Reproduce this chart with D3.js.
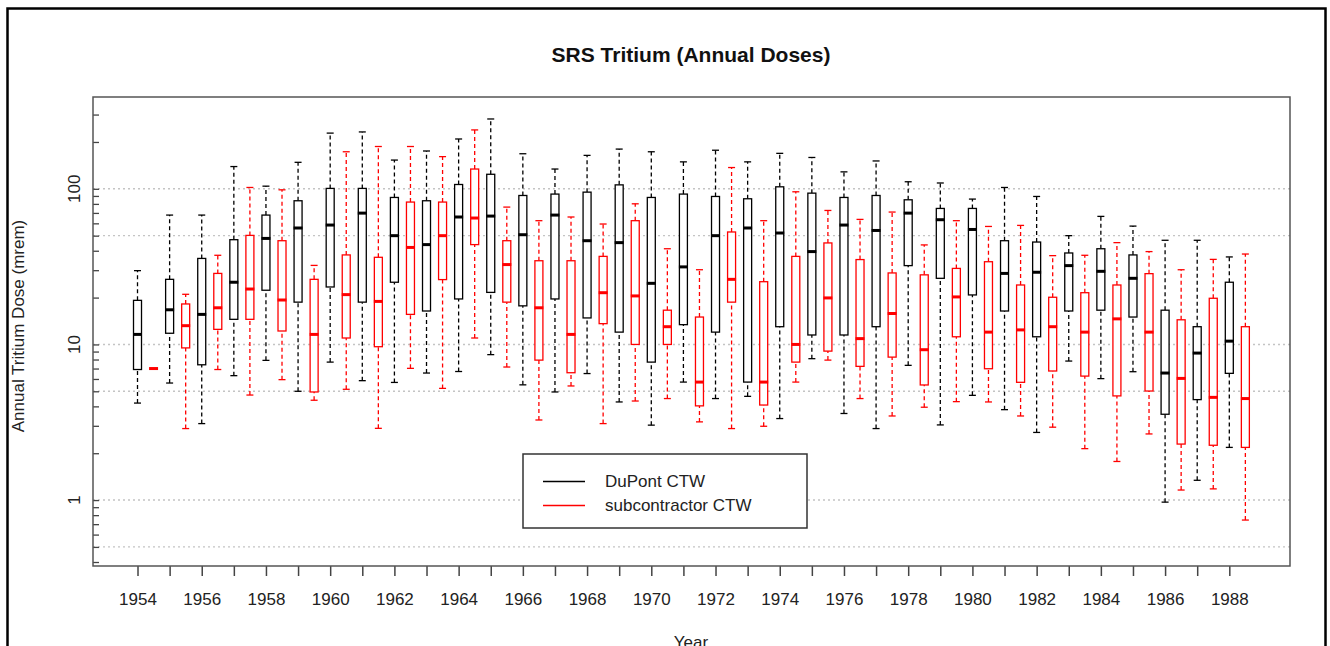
<!DOCTYPE html>
<html>
<head>
<meta charset="utf-8">
<script src="https://cdn.jsdelivr.net/npm/d3@7"></script>
<style>
  body { margin: 0; background: #fff; }
  svg text { font-family: "Liberation Sans", Arial, sans-serif; fill: #222; }
</style>
</head>
<body>
<div id="chart"></div>
<script>
// years on the x axis
var years = d3.range(1954, 1989);
var yTickLabels = [1, 10, 100];
var gridValues = [0.5, 1, 5, 10, 50, 100];

// [lower whisker, Q1, median, Q3, upper whisker] per year
var dupont = [
  [4.2, 6.9, 11.6, 19.2, 29.8], [5.65, 11.8, 16.7, 26.2, 67.8], [3.1, 7.4, 15.6, 35.7, 67.8],
  [6.3, 14.5, 25.1, 47.1, 139], [7.9, 22.3, 48.0, 67.8, 104], [5.0, 18.7, 56, 83.8, 148],
  [7.7, 23.4, 58.5, 100.6, 228], [5.85, 18.7, 69.8, 100.6, 232], [5.7, 25.1, 50, 88, 153],
  [6.55, 16.4, 43.8, 83.8, 175], [6.7, 19.6, 65.9, 106.6, 209], [8.6, 21.6, 66.8, 124, 281],
  [5.5, 17.7, 50.7, 90.6, 168], [4.95, 19.6, 67.8, 92.5, 134], [6.5, 14.8, 46.4, 95.2, 164],
  [4.27, 12.0, 45.1, 106, 180], [3.03, 7.7, 24.7, 88, 173], [5.73, 13.4, 31.5, 92.5, 149],
  [4.49, 12.0, 50, 89.3, 177], [4.64, 5.73, 56, 86.3, 149], [3.34, 13.0, 52, 103, 169],
  [8.1, 11.5, 39.5, 93.8, 159], [3.6, 11.5, 58.5, 88, 128.5], [2.88, 13.0, 54, 90.6, 151],
  [7.34, 32.1, 69.8, 85, 111], [3.04, 26.6, 63.3, 74.8, 109], [4.71, 20.8, 54.8, 74.8, 85.9],
  [3.81, 16.4, 28.6, 46.4, 102], [2.72, 11.2, 29.1, 45.5, 89.3], [7.82, 16.4, 32.1, 38.7, 50],
  [6.03, 16.6, 29.5, 41.2, 66.5], [6.68, 15.0, 26.6, 37.6, 57.6], [0.97, 3.56, 6.55, 16.6, 46.7],
  [1.34, 4.42, 8.8, 13.0, 46.7], [2.18, 6.52, 10.5, 25.1, 36.5]
];

var subcontractor = [
  [7, 7, 7, 7, 7], [2.88, 9.5, 13.2, 18.2, 21.0], [6.9, 12.5, 17.2, 28.6, 37.4],
  [4.73, 14.5, 22.7, 50.2, 102], [5.94, 12.2, 19.3, 46.4, 98.5], [4.38, 4.95, 11.6, 26.2, 32.2],
  [5.15, 11.0, 20.9, 37.6, 173], [2.89, 9.67, 18.9, 36.3, 187], [7.02, 15.6, 42.0, 82.2, 187],
  [5.22, 26.1, 50, 82.2, 161], [11.0, 43.8, 64.9, 134, 239], [7.16, 18.7, 32.6, 46.4, 76.3],
  [3.27, 7.93, 17.2, 34.5, 62.4], [5.41, 6.58, 11.6, 34.5, 65.9], [3.10, 13.6, 21.5, 36.8, 59.4],
  [4.33, 10.0, 20.5, 62.4, 80.1], [4.49, 10.0, 13.0, 16.6, 41.2], [3.18, 4.03, 5.73, 15.0, 30.2],
  [2.88, 18.7, 26.2, 52.8, 137], [2.98, 4.08, 5.73, 25.3, 62.4], [5.73, 7.70, 10.0, 36.8, 95.7],
  [7.93, 9.06, 19.9, 44.9, 72.6], [4.49, 7.23, 10.9, 35.1, 63.6], [3.47, 8.29, 15.8, 28.8, 70.9],
  [3.95, 5.49, 9.25, 28.0, 43.6], [4.29, 11.2, 20.2, 30.8, 62.4], [4.27, 6.98, 12.0, 34.0, 57.3],
  [3.47, 5.71, 12.4, 24.1, 58.2], [2.94, 6.75, 13.0, 20.1, 37.2], [2.14, 6.26, 12.0, 21.5, 37.4],
  [1.77, 4.67, 14.6, 24.1, 45.1], [2.66, 5.02, 12.0, 28.5, 39.5], [1.16, 2.29, 6.05, 14.4, 30.2],
  [1.18, 2.25, 4.57, 19.8, 35.2], [0.744, 2.18, 4.49, 13.0, 38.1]
];

var seriesNames = ["DuPont CTW", "subcontractor CTW"];
var seriesColors = ["#000000", "#ff0000"];

var W = 1330, H = 646;
var plot = {left: 93, right: 1290, top: 97, bottom: 566};
var boxW = 8, capW = 7;

var svg = d3.select("#chart").append("svg")
    .attr("width", W)
    .attr("height", H);

// outer frame
svg.append("rect")
    .attr("x", 7.5).attr("y", 8.5)
    .attr("width", 1318).attr("height", 700)
    .attr("fill", "none")
    .attr("stroke", "#000")
    .attr("stroke-width", 2.5);

var x = d3.scaleLinear()
    .domain([1952.614, 1989.89])
    .range([plot.left, plot.right]);

var y = d3.scaleLog()
    .domain([0.377, 389])
    .range([plot.bottom, plot.top]);

// dotted grid
svg.append("g").selectAll("line")
  .data(gridValues)
  .enter().append("line")
    .attr("x1", plot.left).attr("x2", plot.right)
    .attr("y1", function(d) { return y(d); })
    .attr("y2", function(d) { return y(d); })
    .attr("stroke", "#c4c4c4")
    .attr("stroke-width", 1.4)
    .attr("stroke-dasharray", "2,3");

// x axis
var xAxis = svg.append("g")
    .attr("transform", "translate(0," + plot.bottom + ")")
    .call(d3.axisBottom(x)
      .tickValues(years)
      .tickSize(10)
      .tickSizeOuter(0)
      .tickFormat(function(d) { return d % 2 == 0 ? d : ""; }));
xAxis.select(".domain").remove();
xAxis.selectAll(".tick line").attr("stroke", "#444").attr("stroke-width", 1.5);
xAxis.selectAll(".tick text")
    .attr("y", 27)
    .attr("dy", "0.71em")
    .style("font-size", "17px");

// y axis minor ticks (inward)
var yTicks = [];
[-1, 0, 1, 2].forEach(function(e) {
  for (var m = 1; m < 10; m++) yTicks.push(m * Math.pow(10, e));
});
yTicks = yTicks.filter(function(v) { return v >= 0.377 && v <= 389; });

var yAxis = svg.append("g")
    .attr("transform", "translate(" + plot.left + ",0)")
    .call(d3.axisLeft(y).tickValues(yTicks).tickSize(-6).tickSizeOuter(0).tickFormat(""));
yAxis.select(".domain").remove();
yAxis.selectAll(".tick line").attr("stroke", "#444").attr("stroke-width", 1.3);

svg.append("g").selectAll("text")
  .data(yTickLabels)
  .enter().append("text")
    .attr("transform", function(d) { return "translate(80," + y(d) + ") rotate(-90)"; })
    .attr("text-anchor", "middle")
    .style("font-size", "17px")
    .text(function(d) { return d; });

// plot box
svg.append("rect")
    .attr("x", plot.left).attr("y", plot.top)
    .attr("width", plot.right - plot.left)
    .attr("height", plot.bottom - plot.top)
    .attr("fill", "none")
    .attr("stroke", "#555")
    .attr("stroke-width", 1.5);

// boxplots
function drawBoxes(data, color, offset) {
  var g = svg.append("g");
  var b = g.selectAll("g")
    .data(data)
    .enter().append("g")
      .attr("transform", function(d, i) { return "translate(" + x(years[i] + offset) + ",0)"; });

  // whiskers
  b.append("line")
      .attr("y1", function(d) { return y(d[0]); })
      .attr("y2", function(d) { return y(d[1]); })
      .attr("stroke", color).attr("stroke-width", 1.3)
      .attr("stroke-dasharray", "4,3");
  b.append("line")
      .attr("y1", function(d) { return y(d[3]); })
      .attr("y2", function(d) { return y(d[4]); })
      .attr("stroke", color).attr("stroke-width", 1.3)
      .attr("stroke-dasharray", "4,3");

  // caps
  [0, 4].forEach(function(k) {
    b.append("line")
        .attr("x1", -capW / 2).attr("x2", capW / 2)
        .attr("y1", function(d) { return y(d[k]); })
        .attr("y2", function(d) { return y(d[k]); })
        .attr("stroke", color).attr("stroke-width", 1.3);
  });

  b.append("rect")
      .attr("x", -boxW / 2)
      .attr("width", boxW)
      .attr("y", function(d) { return y(d[3]); })
      .attr("height", function(d) { return y(d[1]) - y(d[3]); })
      .attr("fill", "#fff")
      .attr("stroke", color)
      .attr("stroke-width", 1.3);

  b.append("line")
      .attr("x1", -boxW / 2 - 0.5).attr("x2", boxW / 2 + 0.5)
      .attr("y1", function(d) { return y(d[2]); })
      .attr("y2", function(d) { return y(d[2]); })
      .attr("stroke", color).attr("stroke-width", 3);
}

drawBoxes(dupont, seriesColors[0], 0);
drawBoxes(subcontractor, seriesColors[1], 0.5);

// title and axis labels
svg.append("text")
    .attr("x", 691).attr("y", 62)
    .attr("text-anchor", "middle")
    .style("font-size", "21px")
    .style("font-weight", "bold")
    .style("fill", "#111")
    .text("SRS Tritium (Annual Doses)");

svg.append("text")
    .attr("transform", "translate(24,326) rotate(-90)")
    .attr("text-anchor", "middle")
    .style("font-size", "17px")
    .text("Annual Tritium Dose (mrem)");

// cut off at the bottom edge, as in the source image
svg.append("text")
    .attr("x", 691).attr("y", 648)
    .attr("text-anchor", "middle")
    .style("font-size", "17px")
    .text("Year");

// legend
var legend = svg.append("g");
legend.append("rect")
    .attr("x", 523).attr("y", 454)
    .attr("width", 284).attr("height", 74)
    .attr("fill", "#fff")
    .attr("stroke", "#333")
    .attr("stroke-width", 1.5);

var rows = legend.selectAll("g")
  .data(seriesNames)
  .enter().append("g")
    .attr("transform", function(d, i) { return "translate(0," + (481.5 + i * 24) + ")"; });
rows.append("line")
    .attr("x1", 543).attr("x2", 585)
    .attr("stroke", function(d, i) { return seriesColors[i]; })
    .attr("stroke-width", 1.5);
rows.append("text")
    .attr("x", 605)
    .attr("dy", "0.35em")
    .style("font-size", "17px")
    .text(function(d) { return d; });
</script>
</body>
</html>
